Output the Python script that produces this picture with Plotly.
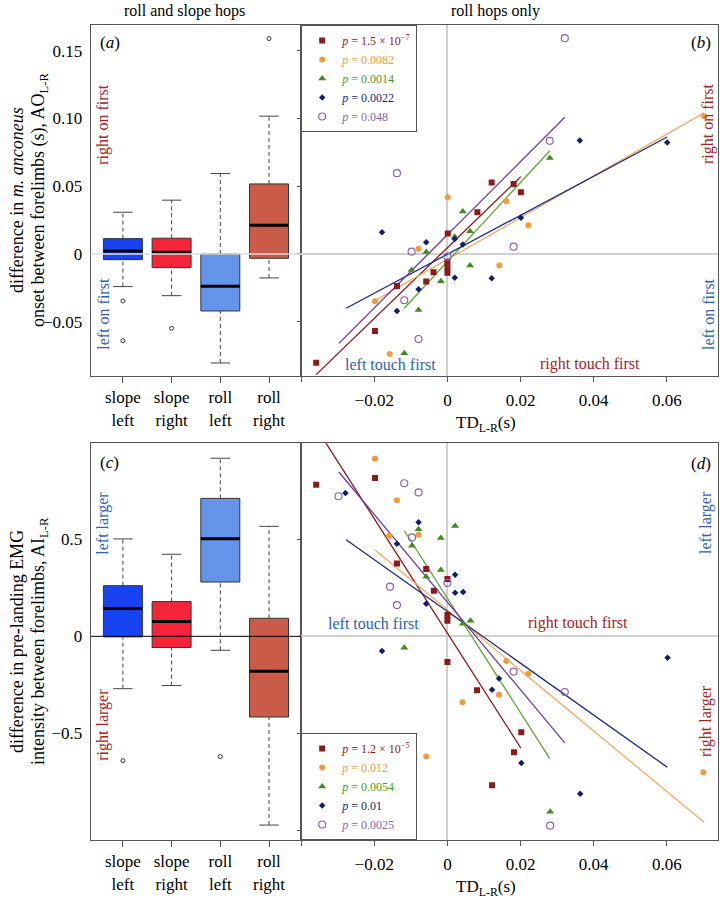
import plotly.graph_objects as go

# ---------------- data ----------------
box_labels = ["slope<br>left", "slope<br>right", "roll<br>left", "roll<br>right"]
box_colors = ["#1843f2", "#f42538", "#6595ea", "#c95b48"]

# panel (a): AO_L-R box statistics
a_lower = [-0.0241, -0.0308, -0.0805, -0.0177]
a_q1 = [-0.0042, -0.0101, -0.0421, -0.0032]
a_median = [0.0022, 0.0012, -0.0239, 0.0212]
a_q3 = [0.0113, 0.0116, 0.0000, 0.0517]
a_upper = [0.0308, 0.0397, 0.0594, 0.1017]
a_out_group = [1, 1, 2, 4]
a_out_val = [-0.0347, -0.064, -0.0549, 0.159]

# panel (c): AI_L-R box statistics
c_lower = [-0.270, -0.254, -0.072, -0.973]
c_q1 = [-0.003, -0.058, 0.280, -0.416]
c_median = [0.143, 0.077, 0.503, -0.180]
c_q3 = [0.261, 0.179, 0.711, 0.093]
c_upper = [0.502, 0.423, 0.918, 0.567]
c_out_group = [1, 3]
c_out_val = [-0.641, -0.620]

# scatter groups (individuals)
grp_marker_colors = ["#8b1a1a", "#f39a3a", "#3f8c1f", "#101c72", "#8a62b4"]
grp_line_colors = ["#8b1414", "#f5a862", "#5ea232", "#1c2a82", "#6a3b9c"]
grp_text_colors = ["#8b1a1a", "#f39a3a", "#4a9a2a", "#1a237e", "#8a62b4"]
grp_symbols = ["square", "circle", "triangle-up", "diamond", "circle-open"]
grp_sizes = [6, 6, 7, 5, 7]
b_pvalues = ["1.5 × 10<sup>−7</sup>", "0.0082", "0.0014", "0.0022", "0.048"]
d_pvalues = ["1.2 × 10<sup>−5</sup>", "0.012", "0.0054", "0.01", "0.0025"]

# panel (b): TD_L-R vs AO_L-R
b_x = [
    [0.0121, 0.0181, 0.0201, 0.0082, 0.0001, 0.0, 0.0, 0.0, -0.0038, -0.0058, -0.0138, -0.0198, -0.0359],
    [0.0702, 0.0001, 0.0161, 0.0221, -0.0079, 0.0142, -0.0198, -0.0158],
    [0.028, 0.0042, 0.0062, 0.002, -0.0058, 0.0062, -0.0098, -0.0018, -0.0079, -0.0118],
    [0.0362, 0.0601, 0.0201, -0.0179, 0.002, -0.0058, 0.0042, 0.002, 0.0121, -0.0079, -0.0138],
    [0.0321, 0.028, -0.0138, 0.0181, -0.0098, 0.0, -0.0118, -0.0079],
]
b_y = [
    [0.0527, 0.0517, 0.0456, 0.0308, 0.0150, -0.0057, -0.0099, -0.0138, -0.0135, -0.0204, -0.0236, -0.0569, -0.0803],
    [0.1017, 0.0419, 0.0389, 0.0212, 0.0039, -0.0086, -0.0350, -0.0739],
    [0.0709, 0.0313, 0.0167, 0.0126, 0.0015, -0.0086, -0.0118, -0.0202, -0.0414, -0.0733],
    [0.0837, 0.0822, 0.0268, 0.0160, 0.0111, 0.0086, 0.0069, -0.0175, -0.0180, -0.0261, -0.0421],
    [0.1593, 0.0835, 0.0596, 0.0054, 0.0017, -0.0020, -0.0342, -0.0628],
]
b_slope = [2.61, 1.54, 2.92, 1.44, 2.70]
b_intercept = [0.0046, -0.0040, -0.0056, -0.0002, 0.0142]

# panel (d): TD_L-R vs AI_L-R
d_x = [
    [-0.0198, -0.0359, -0.0138, -0.0058, 0.0, -0.0037, 0.0, 0.0, 0.0, 0.0081, 0.0202, 0.0182, 0.0122],
    [-0.0198, -0.0138, -0.0079, -0.016, 0.0161, 0.0221, 0.0141, 0.0041, -0.0058, 0.070],
    [0.0021, -0.0079, -0.0018, -0.0097, -0.0018, -0.0058, 0.0063, 0.0042, -0.0118, 0.0281],
    [-0.0279, -0.0079, -0.0138, 0.0021, 0.0021, 0.0043, -0.0058, -0.0179, 0.0602, 0.0141, 0.0122, 0.0202, 0.0363],
    [-0.0118, -0.0079, -0.0298, -0.0097, 0.0, -0.0157, -0.0138, 0.0181, 0.0321, 0.0281],
]
d_y = [
    [0.816, 0.781, 0.376, 0.347, 0.295, 0.235, 0.110, 0.080, -0.132, -0.278, -0.495, -0.598, -0.768],
    [0.915, 0.701, 0.524, 0.517, -0.127, -0.193, -0.301, -0.340, -0.620, -0.701],
    [0.569, 0.552, 0.507, 0.467, 0.342, 0.307, 0.080, 0.065, -0.059, -0.904],
    [0.739, 0.588, 0.477, 0.318, 0.225, 0.228, 0.168, -0.076, -0.110, -0.218, -0.275, -0.653, -0.811],
    [0.789, 0.742, 0.722, 0.510, 0.275, 0.256, 0.161, -0.182, -0.287, -0.976],
]
d_slope = [-29.5, -15.6, -29.5, -13.35, -22.6]
d_intercept = [0.016, 0.136, 0.196, 0.128, 0.176]

# x extent of each fitted line
line_xmin = [-0.0359, -0.0198, -0.0118, -0.0277, -0.0297]
line_xmax = [0.0201, 0.0702, 0.0280, 0.0601, 0.0321]

a_yticks = [-0.05, 0, 0.05, 0.10, 0.15]
a_yticktext = ["−0.05", "0", "0.05", "0.10", "0.15"]
c_yticks = [-1.0, -0.5, 0, 0.5]
c_yticktext = [" ", "−0.5", "0", "0.5"]
td_ticks = [-0.04, -0.02, 0, 0.02, 0.04, 0.06]
td_ticktext = [" ", "−0.02", "0", "0.02", "0.04", "0.06"]

# ---------------- figure ----------------
W, H = 720, 901
FONT = "Liberation Serif"
RED_TXT = "#a52424"
BLUE_TXT = "#2f62b5"
EDGE = "#333333"
AXC = "#555555"

fig = go.Figure()


def add_boxes(xa, ya, lower, q1, med, q3, upper, og, ov):
    for i in range(4):
        pos = i + 1
        fig.add_trace(go.Box(
            x=[pos], q1=[q1[i]], median=[med[i]], q3=[q3[i]],
            lowerfence=[q1[i]], upperfence=[q3[i]], width=0.8, whiskerwidth=0,
            fillcolor=box_colors[i], line=dict(color=EDGE, width=1),
            boxpoints=False, hoverinfo="skip", showlegend=False, xaxis=xa, yaxis=ya))
        # dashed whiskers
        for y0, y1 in ((q3[i], upper[i]), (lower[i], q1[i])):
            fig.add_trace(go.Scatter(x=[pos, pos], y=[y0, y1], mode="lines",
                                     line=dict(color="#444", width=1, dash="4px,3px"),
                                     showlegend=False, hoverinfo="skip", xaxis=xa, yaxis=ya))
        # staples
        for yv in (upper[i], lower[i]):
            fig.add_trace(go.Scatter(x=[pos - 0.2, pos + 0.2], y=[yv, yv], mode="lines",
                                     line=dict(color="#444", width=1),
                                     showlegend=False, hoverinfo="skip", xaxis=xa, yaxis=ya))
        # median
        fig.add_trace(go.Scatter(x=[pos - 0.4, pos + 0.4], y=[med[i], med[i]], mode="lines",
                                 line=dict(color="black", width=3),
                                 showlegend=False, hoverinfo="skip", xaxis=xa, yaxis=ya))
    fig.add_trace(go.Scatter(x=og, y=ov, mode="markers",
                             marker=dict(symbol="circle-open", size=4, color="#333", line=dict(width=1)),
                             showlegend=False, hoverinfo="skip", xaxis=xa, yaxis=ya))


add_boxes("x", "y", a_lower, a_q1, a_median, a_q3, a_upper, a_out_group, a_out_val)
add_boxes("x3", "y3", c_lower, c_q1, c_median, c_q3, c_upper, c_out_group, c_out_val)


def add_scatter(xa, ya, xs, ys, slopes, ints, pvals, legend):
    for g in range(5):
        lx = [line_xmin[g], line_xmax[g]]
        ly = [ints[g] + slopes[g] * v for v in lx]
        fig.add_trace(go.Scatter(x=lx, y=ly, mode="lines",
                                 line=dict(color=grp_line_colors[g], width=1.3),
                                 showlegend=False, hoverinfo="skip", xaxis=xa, yaxis=ya))
    for g in range(5):
        sym = grp_symbols[g]
        if sym == "circle-open":
            mk = dict(symbol=sym, size=grp_sizes[g], color=grp_marker_colors[g], line=dict(width=1.2))
        else:
            mk = dict(symbol=sym, size=grp_sizes[g], color=grp_marker_colors[g], line=dict(width=0))
        name = '<span style="color:%s"><i>p</i> = %s</span>' % (grp_text_colors[g], pvals[g])
        fig.add_trace(go.Scatter(x=xs[g], y=ys[g], mode="markers", marker=mk, name=name,
                                 legend=legend, hoverinfo="skip", xaxis=xa, yaxis=ya))


add_scatter("x2", "y2", b_x, b_y, b_slope, b_intercept, b_pvalues, "legend")
add_scatter("x4", "y4", d_x, d_y, d_slope, d_intercept, d_pvalues, "legend2")

# domains (paper fractions)
xl = [89 / W, 300 / W]
xr = [300 / W, 718 / W]
yt = [1 - 376 / H, 1 - 25 / H]
yb = [1 - 840 / H, 1 - 443.3 / H]

tickfont = dict(family=FONT, size=17, color="black")
common = dict(showline=True, mirror=True, linecolor=AXC, linewidth=1, showgrid=False,
              tickfont=tickfont, tickcolor=AXC)

a_range = [-0.0901, 0.169]
c_range = [-1.05, 0.995]
td_range = [-0.04, 0.074]
box_range = [0.34, 4.66]

fig.update_layout(
    width=W, height=H, margin=dict(l=0, r=0, t=0, b=0), autosize=False,
    plot_bgcolor="white", paper_bgcolor="white",
    font=dict(family=FONT, size=16, color="black"),
    xaxis=dict(domain=xl, anchor="y", range=box_range, tickvals=[1, 2, 3, 4], ticktext=box_labels,
               ticks="outside", ticklen=6, zeroline=False, **common),
    yaxis=dict(domain=yt, anchor="x", range=a_range, tickvals=a_yticks, ticktext=a_yticktext,
               ticks="", zeroline=False, ticklabelstandoff=4, **common),
    xaxis2=dict(domain=xr, anchor="y2", range=td_range, tickvals=td_ticks, ticktext=td_ticktext,
                ticks="outside", ticklen=5, ticklabelstandoff=4, zeroline=True, zerolinecolor="#d0d0d0",
                zerolinewidth=1.5, **common),
    yaxis2=dict(domain=yt, anchor="x2", range=a_range, tickvals=a_yticks, showticklabels=False,
                ticks="outside", ticklen=3, zeroline=True, zerolinecolor="#d0d0d0", zerolinewidth=1.5, **common),
    xaxis3=dict(domain=xl, anchor="y3", range=box_range, tickvals=[1, 2, 3, 4], ticktext=box_labels,
                ticks="outside", ticklen=6, zeroline=False, **common),
    yaxis3=dict(domain=yb, anchor="x3", range=c_range, tickvals=c_yticks, ticktext=c_yticktext,
                ticks="", zeroline=False, ticklabelstandoff=4, **common),
    xaxis4=dict(domain=xr, anchor="y4", range=td_range, tickvals=td_ticks, ticktext=td_ticktext,
                ticks="outside", ticklen=5, ticklabelstandoff=4, zeroline=True, zerolinecolor="#d0d0d0",
                zerolinewidth=1.5, **common),
    yaxis4=dict(domain=yb, anchor="x4", range=c_range, tickvals=c_yticks, showticklabels=False,
                ticks="outside", ticklen=3, zeroline=True, zerolinecolor="#d0d0d0", zerolinewidth=1.5, **common),
    legend=dict(x=300 / W, y=1 - 25 / H, xanchor="left", yanchor="top", bgcolor="white",
                bordercolor=AXC, borderwidth=1, font=dict(family=FONT, size=12),
                itemwidth=30, tracegroupgap=0),
    legend2=dict(x=300 / W, y=1 - 840 / H, xanchor="left", yanchor="bottom", bgcolor="white",
                 bordercolor=AXC, borderwidth=1, font=dict(family=FONT, size=12),
                 itemwidth=30, tracegroupgap=0),
    shapes=[
        dict(type="line", xref="x domain", yref="y", x0=0, x1=1, y0=0, y1=0,
             line=dict(color="#dcdcdc", width=1.5), layer="above"),
        dict(type="line", xref="x3 domain", yref="y3", x0=0, x1=1, y0=0, y1=0,
             line=dict(color="black", width=1), layer="above"),
    ],
)


def ann(text, x, y, size=16, color="black", angle=0, xanchor="center", yanchor="middle"):
    fig.add_annotation(text=text, x=x / W, y=1 - y / H, xref="paper", yref="paper",
                       showarrow=False, textangle=angle, xanchor=xanchor, yanchor=yanchor,
                       font=dict(family=FONT, size=size, color=color))


ann("roll and slope hops", 183, 11, size=16)
ann("roll hops only", 495, 11, size=16)
ann("(<i>a</i>)", 96, 43, size=17, xanchor="left")
ann("(<i>b</i>)", 713, 43, size=17, xanchor="right")
ann("(<i>c</i>)", 96, 462, size=17, xanchor="left")
ann("(<i>d</i>)", 713, 463, size=17, xanchor="right")

ann("right on first", 101, 124, color=RED_TXT, angle=-90)
ann("left on first", 101, 314, color=BLUE_TXT, angle=-90)
ann("right on first", 708, 124, color=RED_TXT, angle=-90)
ann("left on first", 708, 314, color=BLUE_TXT, angle=-90)
ann("left touch first", 390, 364, color=BLUE_TXT)
ann("right touch first", 590, 364, color=RED_TXT)

ann("left larger", 101, 523, color=BLUE_TXT, angle=-90)
ann("right larger", 101, 725, color=RED_TXT, angle=-90)
ann("left larger", 706, 523, color=BLUE_TXT, angle=-90)
ann("right larger", 706, 721, color=RED_TXT, angle=-90)
ann("left touch first", 373, 623, color=BLUE_TXT)
ann("right touch first", 578, 623, color=RED_TXT)

ann("TD<sub>L-R</sub>(s)", 485, 424, size=17)
ann("TD<sub>L-R</sub>(s)", 485, 888, size=17)

ann("difference in <i>m. anconeus</i>", 15, 200, size=18, angle=-90)
ann("onset between forelimbs (s), AO<sub>L-R</sub>", 37, 200, size=18, angle=-90)
ann("difference in pre-landing EMG", 15, 641, size=18, angle=-90)
ann("intensity between forelimbs, AI<sub>L-R</sub>", 37, 641, size=18, angle=-90)

fig.write_html("out.html", config={"displayModeBar": False},
               post_script="document.body.style.margin='0px';document.body.style.padding='0px';")
